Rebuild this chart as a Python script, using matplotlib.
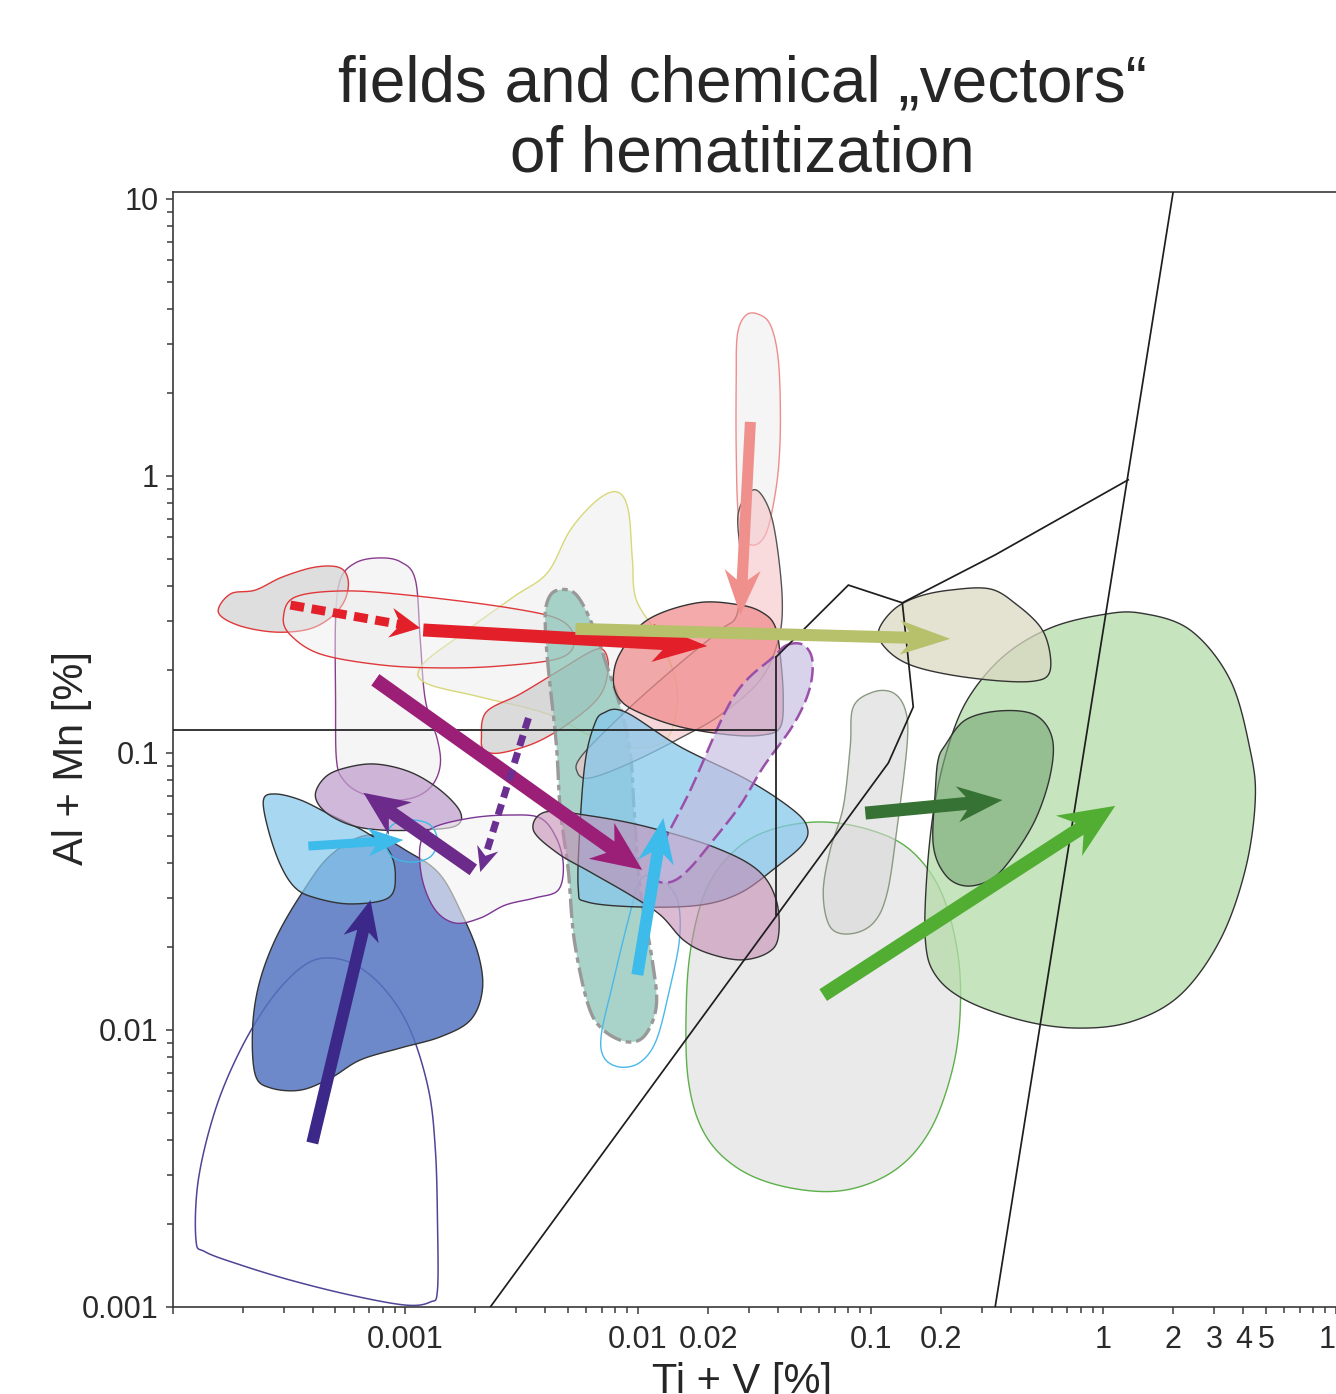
import numpy as np
import matplotlib
matplotlib.use("Agg")
import matplotlib.pyplot as plt
from matplotlib.patches import Polygon
from matplotlib.colors import to_rgba

plt.rcParams['font.family'] = ['Liberation Sans', 'DejaVu Sans']
plt.rcParams['lines.scale_dashes'] = False

# ---------------- data (all values are log10 of the percentages) ----------------
# field outlines: log10(Ti+V) and log10(Al+Mn)
f01_lx = [-3.90, -3.89, -3.817, -3.709, -3.58, -3.45, -3.344, -3.215, -3.086, -2.979, -2.90, -2.871, -2.862, -2.862, -2.893, -3.0, -3.236, -3.494, -3.709, -3.86]
f01_ly = [-2.758, -2.542, -2.289, -2.072, -1.892, -1.776, -1.740, -1.765, -1.856, -2.0, -2.217, -2.433, -2.686, -2.939, -2.982, -2.993, -2.957, -2.903, -2.848, -2.801]
f02_lx = [-3.645, -3.657, -3.63, -3.56, -3.45, -3.32, -3.15, -2.979, -2.85, -2.755, -2.686, -2.669, -2.72, -2.85, -3.021, -3.193, -3.32, -3.45, -3.58]
f02_ly = [-2.162, -2.0, -1.838, -1.675, -1.513, -1.368, -1.296, -1.361, -1.440, -1.585, -1.729, -1.856, -1.964, -2.025, -2.065, -2.108, -2.173, -2.217, -2.209]
f03_lx = [-3.61, -3.56, -3.45, -3.32, -3.172, -3.073, -3.043, -3.073, -3.236, -3.387, -3.473, -3.537, -3.589]
f03_ly = [-1.170, -1.148, -1.170, -1.224, -1.285, -1.350, -1.440, -1.523, -1.545, -1.523, -1.487, -1.404, -1.278]
f04_lx = [-3.387, -3.344, -3.258, -3.129, -2.979, -2.85, -2.764, -2.785, -2.936, -3.107, -3.236, -3.344]
f04_ly = [-1.152, -1.087, -1.054, -1.040, -1.069, -1.134, -1.213, -1.264, -1.278, -1.278, -1.260, -1.213]
f05_lx = [-2.862, -2.893, -2.974, -3.056, -3.086, -3.056, -2.974, -2.893]
f05_ly = [-1.318, -1.260, -1.242, -1.260, -1.318, -1.375, -1.394, -1.375]
f06_lx = [-3.30, -3.30, -3.28, -3.215, -3.116, -3.021, -2.957, -2.936, -2.914, -2.862, -2.85, -2.884, -2.957, -3.064, -3.193, -3.266, -3.296]
f06_ly = [-0.809, -0.520, -0.375, -0.314, -0.296, -0.310, -0.375, -0.592, -0.809, -0.953, -1.043, -1.116, -1.159, -1.170, -1.144, -1.097, -1.025]
f07_lx = [-2.936, -2.884, -2.72, -2.549, -2.42, -2.351, -2.321, -2.343, -2.441, -2.570, -2.678, -2.785, -2.871, -2.927]
f07_ly = [-1.332, -1.271, -1.235, -1.224, -1.235, -1.307, -1.404, -1.495, -1.523, -1.549, -1.596, -1.614, -1.567, -1.458]
f08_lx = [-3.804, -3.752, -3.645, -3.529, -3.387, -3.28, -3.245, -3.266, -3.335, -3.43, -3.572, -3.722]
f08_ly = [-0.491, -0.426, -0.412, -0.365, -0.329, -0.332, -0.383, -0.458, -0.520, -0.556, -0.563, -0.538]
f09_lx = [-3.524, -3.473, -3.258, -2.957, -2.549, -2.334, -2.274, -2.334, -2.592, -2.85, -3.107, -3.365, -3.494]
f09_ly = [-0.509, -0.437, -0.415, -0.433, -0.477, -0.520, -0.592, -0.657, -0.686, -0.693, -0.682, -0.643, -0.574]
f10_lx = [-2.673, -2.652, -2.506, -2.334, -2.205, -2.149, -2.128, -2.162, -2.278, -2.433, -2.592, -2.661]
f10_ly = [-0.946, -0.852, -0.787, -0.700, -0.635, -0.628, -0.690, -0.791, -0.881, -0.960, -1.0, -0.989]
f11_lx = [-2.089, -2.042, -2.024, -2.007, -1.904, -1.831, -1.87, -2.003, -2.183, -2.39, -2.678, -2.914, -2.927, -2.751, -2.536, -2.39, -2.291, -2.175]
f11_ly = [-0.058, -0.123, -0.303, -0.448, -0.592, -0.773, -0.942, -0.982, -0.946, -0.859, -0.798, -0.747, -0.682, -0.567, -0.437, -0.350, -0.195, -0.087]
f12_lx = [-2.394, -2.355, -2.269, -2.192, -2.132, -2.076, -2.033, -2.016, -1.99, -1.939, -1.921, -1.969, -2.046, -2.149, -2.214, -2.274, -2.30, -2.334, -2.351, -2.385, -2.398]
f12_ly = [-0.466, -0.415, -0.426, -0.545, -0.690, -0.834, -1.0, -1.217, -1.495, -1.747, -1.910, -2.018, -2.043, -2.0, -1.910, -1.675, -1.422, -1.206, -0.971, -0.700, -0.556]
f13_lx = [-1.99, -2.042, -2.11, -2.158, -2.145, -2.076, -1.99, -1.921, -1.865, -1.822, -1.827, -1.874, -1.926]
f13_ly = [-1.458, -1.603, -1.838, -2.018, -2.101, -2.134, -2.116, -2.036, -1.856, -1.675, -1.542, -1.473, -1.448]
f14_lx = [-2.149, -2.055, -1.818, -1.530, -1.333, -1.272, -1.294, -1.41, -1.56, -1.732, -1.99, -2.218, -2.257, -2.248, -2.226, -2.188]
f14_ly = [-0.856, -0.852, -0.978, -1.097, -1.206, -1.271, -1.332, -1.415, -1.505, -1.549, -1.556, -1.538, -1.487, -1.242, -1.025, -0.899]
f15_lx = [-2.45, -2.398, -2.205, -1.96, -1.676, -1.487, -1.406, -1.397, -1.444, -1.56, -1.702, -1.805, -1.904, -2.033, -2.205, -2.347]
f15_ly = [-1.278, -1.213, -1.227, -1.267, -1.339, -1.422, -1.531, -1.664, -1.722, -1.747, -1.722, -1.675, -1.585, -1.513, -1.430, -1.361]
f16_lx = [-2.106, -2.076, -1.96, -1.745, -1.56, -1.462, -1.41, -1.388, -1.376, -1.388, -1.462, -1.603, -1.818, -1.99, -2.076]
f16_ly = [-0.736, -0.639, -0.520, -0.458, -0.466, -0.495, -0.545, -0.653, -0.798, -0.906, -0.935, -0.935, -0.906, -0.856, -0.809]
f17_lx = [-1.504, -1.444, -1.406, -1.38, -1.397, -1.474, -1.646, -1.818, -2.033, -2.205, -2.261, -2.239, -2.033, -1.818, -1.646, -1.573, -1.56, -1.569]
f17_ly = [-0.05, -0.105, -0.231, -0.448, -0.592, -0.736, -0.863, -0.946, -1.036, -1.090, -1.069, -1.007, -0.834, -0.675, -0.556, -0.495, -0.303, -0.134]
f18_lx = [-1.573, -1.539, -1.487, -1.431, -1.397, -1.388, -1.397, -1.423, -1.453, -1.496, -1.539, -1.569, -1.578, -1.578]
f18_ly = [0.509, 0.578, 0.585, 0.545, 0.419, 0.202, 0.022, -0.123, -0.213, -0.249, -0.231, -0.141, 0.094, 0.347]
f19_lx = [-1.358, -1.29, -1.251, -1.264, -1.333, -1.462, -1.56, -1.676, -1.784, -1.861, -1.926, -1.904, -1.775, -1.59, -1.418]
f19_ly = [-0.610, -0.610, -0.664, -0.773, -0.899, -1.051, -1.188, -1.314, -1.422, -1.466, -1.451, -1.350, -1.134, -0.798, -0.653]
f20_lx = [-0.967, -0.903, -0.80, -0.658, -0.486, -0.37, -0.271, -0.232, -0.232, -0.293, -0.443, -0.658, -0.83, -0.929]
f20_ly = [-0.563, -0.484, -0.437, -0.412, -0.408, -0.466, -0.545, -0.628, -0.711, -0.740, -0.740, -0.718, -0.682, -0.628]
f21_lx = [-1.792, -1.767, -1.702, -1.582, -1.431, -1.217, -1.002, -0.83, -0.701, -0.628, -0.615, -0.649, -0.744, -0.894, -1.109, -1.346, -1.56, -1.711, -1.784]
f21_ly = [-1.892, -1.675, -1.484, -1.350, -1.278, -1.249, -1.278, -1.350, -1.495, -1.711, -1.928, -2.144, -2.361, -2.505, -2.578, -2.570, -2.505, -2.379, -2.181]
f22_lx = [-1.075, -0.989, -0.903, -0.851, -0.843, -0.886, -0.929, -0.989, -1.088, -1.174, -1.204, -1.174, -1.118, -1.088]
f22_ly = [-0.834, -0.780, -0.783, -0.845, -0.964, -1.267, -1.505, -1.614, -1.653, -1.628, -1.505, -1.350, -1.195, -0.978]
f23_lx = [0.159, 0.373, 0.545, 0.631, 0.653, 0.61, 0.502, 0.33, 0.116, -0.121, -0.357, -0.593, -0.722, -0.765, -0.757, -0.722, -0.658, -0.572, -0.422, -0.228, -0.013]
f23_ly = [-0.495, -0.556, -0.736, -0.989, -1.170, -1.422, -1.675, -1.874, -1.971, -1.993, -1.964, -1.892, -1.801, -1.675, -1.422, -1.170, -0.953, -0.791, -0.646, -0.549, -0.502]
f24_lx = [-0.679, -0.593, -0.443, -0.293, -0.22, -0.228, -0.293, -0.40, -0.486, -0.593, -0.679, -0.731, -0.722, -0.71]
f24_ly = [-0.971, -0.881, -0.848, -0.863, -0.946, -1.079, -1.242, -1.386, -1.458, -1.480, -1.440, -1.332, -1.134, -1.025]

# boundary lines of the diagram (log10 values)
bound_h_lx = [-4.0, -1.406]
bound_h_ly = [-0.917, -0.917]
bound_v_lx = [-1.406, -1.406]
bound_v_ly = [-0.653, -1.585]
bound_poly_lx = [-1.406, -1.096, -0.864, -0.817, -0.924, -2.635]
bound_poly_ly = [-0.653, -0.394, -0.458, -0.834, -1.036, -3.0]
bound_upper_lx = [-0.864, -0.465, 0.107]
bound_upper_ly = [-0.458, -0.285, -0.014]
bound_steep_lx = [0.30, -0.465]
bound_steep_ly = [1.025, -3.0]

# chemical vectors: start and end (log10 Ti+V, log10 Al+Mn)
vec_names = ['red_dash', 'red', 'olive', 'salmon', 'magenta', 'purple_dash', 'purple', 'cyan1', 'indigo', 'cyan2', 'dkgreen', 'green']
vec_x0 = [-3.494, -2.923, -2.269, -1.517, -3.129, -2.471, -2.708, -3.417, -3.40, -2.003, -1.023, -1.204]
vec_y0 = [-0.466, -0.556, -0.552, 0.195, -0.736, -0.874, -1.422, -1.336, -2.408, -1.801, -1.217, -1.874]
vec_x1 = [-2.936, -1.702, -0.658, -1.56, -1.982, -2.678, -3.18, -3.009, -3.15, -1.891, -0.434, 0.051]
vec_y1 = [-0.549, -0.614, -0.588, -0.502, -1.422, -1.430, -1.144, -1.314, -1.531, -1.235, -1.170, -1.191]

x_tick_vals = [1e-4, 0.001, 0.01, 0.02, 0.1, 0.2, 1, 2, 3, 4, 5, 10]
x_tick_labels = ['', '0.001', '0.01', '0.02', '0.1', '0.2', '1', '2', '3', '4', '5', '10']
y_tick_vals = [0.001, 0.01, 0.1, 1, 10]
y_tick_labels = ['0.001', '0.01', '0.1', '1', '10']

# ---------------- styles ----------------
DPI = 100
fig = plt.figure(figsize=(13.36, 13.94), dpi=DPI)
ax = fig.add_axes([172.7 / 1336, 87 / 1394, (1336 - 172.7) / 1336, (1307 - 192) / 1394])
ax.set_xscale('log')
ax.set_yscale('log')
ax.set_xlim(1e-4, 10)
ax.set_ylim(1e-3, 10 ** 1.025)


def smooth_closed(lx, ly, k=14):
    P = np.column_stack([lx, ly]).astype(float)
    n = len(P)
    t = np.linspace(0, 1, k, endpoint=False)[:, None]
    segs = []
    for i in range(n):
        p0, p1, p2, p3 = P[(i - 1) % n], P[i], P[(i + 1) % n], P[(i + 2) % n]
        seg = 0.5 * ((2 * p1) + (-p0 + p2) * t + (2 * p0 - 5 * p1 + 4 * p2 - p3) * t ** 2
                     + (-p0 + 3 * p1 - 3 * p2 + p3) * t ** 3)
        segs.append(seg)
    return np.vstack(segs)


fields = [
    # lx, ly, face, alpha, edge, lw, linestyle
    (f01_lx, f01_ly, None, 0, '#4e4596', 1.1, '-'),
    (f21_lx, f21_ly, '#e4e4e4', 0.75, '#5cb04a', 1.0, '-'),
    (f02_lx, f02_ly, '#5574c0', 0.85, '#333333', 1.0, '-'),
    (f03_lx, f03_ly, '#86c8ec', 0.72, '#333333', 1.0, '-'),
    (f06_lx, f06_ly, '#f2f2f2', 0.7, '#8a3d8f', 1.0, '-'),
    (f04_lx, f04_ly, '#bf9dcc', 0.72, '#333333', 1.0, '-'),
    (f07_lx, f07_ly, '#f2f2f2', 0.6, '#7b3592', 1.0, '-'),
    (f05_lx, f05_ly, None, 0, '#3fb8e6', 1.0, '-'),
    (f11_lx, f11_ly, '#ededed', 0.55, '#d8d878', 1.0, '-'),
    (f08_lx, f08_ly, '#d6d6d6', 0.8, '#e0383a', 1.0, '-'),
    (f09_lx, f09_ly, '#ececec', 0.45, '#e0383a', 1.0, '-'),
    (f10_lx, f10_ly, '#cdcdcd', 0.7, '#e0383a', 1.0, '-'),
    (f12_lx, f12_ly, '#8cc5b8', 0.75, '#999999', 2.4, (0, (14, 3.5, 4, 3.5))),
    (f13_lx, f13_ly, None, 0, '#4ab8e8', 1.0, '-'),
    (f18_lx, f18_ly, '#f4f4f4', 0.85, '#f08c8c', 1.0, '-'),
    (f17_lx, f17_ly, '#f5c4c8', 0.6, '#555555', 1.0, '-'),
    (f16_lx, f16_ly, '#f08a8a', 0.72, '#333333', 1.0, '-'),
    (f14_lx, f14_ly, '#86c8ec', 0.74, '#333333', 1.0, '-'),
    (f15_lx, f15_ly, '#c58db5', 0.6, '#333333', 1.0, '-'),
    (f19_lx, f19_ly, '#c4bce0', 0.65, '#9a50a8', 1.8, (0, (11, 4))),
    (f22_lx, f22_ly, '#d8d8d8', 0.6, '#8a9a80', 1.0, '-'),
    (f23_lx, f23_ly, '#b4dba8', 0.75, '#333333', 1.0, '-'),
    (f24_lx, f24_ly, '#7caa79', 0.65, '#333333', 1.0, '-'),
    (f20_lx, f20_ly, '#dbd9c2', 0.75, '#333333', 1.0, '-'),
]

for z, (lx, ly, face, alpha, edge, lw, ls) in enumerate(fields):
    pts = 10 ** smooth_closed(lx, ly)
    fc = to_rgba(face, alpha) if face else 'none'
    ax.add_patch(Polygon(pts, closed=True, fc=fc, ec=edge, lw=lw, ls=ls, zorder=1 + z * 0.01))

for lx, ly in [(bound_h_lx, bound_h_ly), (bound_v_lx, bound_v_ly), (bound_poly_lx, bound_poly_ly),
               (bound_upper_lx, bound_upper_ly), (bound_steep_lx, bound_steep_ly)]:
    ax.plot(10 ** np.array(lx), 10 ** np.array(ly), color='#1e1e1e', lw=1.25, zorder=3,
            solid_joinstyle='miter', clip_on=True)

# arrow styles (pixels): color, shaft width, head length, head width, notch, dashes
vec_style = {
    'red_dash':    ('#e3202a', 9, 30, 30, 10, (10, 5.5)),
    'red':         ('#e3202a', 13, 55, 38, 16, None),
    'olive':       ('#b7c06a', 12, 50, 34, 14, None),
    'salmon':      ('#f0908c', 11, 45, 36, 14, None),
    'magenta':     ('#9b1f77', 14, 50, 44, 16, None),
    'purple_dash': ('#6a2f90', 7, 25, 22, 8, (8, 5)),
    'purple':      ('#6c2a8b', 13, 45, 40, 14, None),
    'cyan1':       ('#3dbbea', 9, 35, 28, 10, None),
    'indigo':      ('#3b2888', 12, 40, 36, 12, None),
    'cyan2':       ('#3dbbea', 12, 45, 36, 14, None),
    'dkgreen':     ('#367233', 13, 45, 36, 14, None),
    'green':       ('#52ad33', 14, 55, 48, 18, None),
}


def draw_vector(x0, y0, x1, y1, color, w, hl, hw, notch, dashes, z):
    T = ax.transData
    p0 = T.transform((x0, y0))
    p1 = T.transform((x1, y1))
    d = p1 - p0
    u = d / np.hypot(*d)
    n = np.array([-u[1], u[0]])
    B = p1 - hl * u
    Cl, Cr = B + hw / 2 * n, B - hw / 2 * n
    N = B + notch * u
    tt = 1 - w / hw
    Ql = B + w / 2 * n + tt * notch * u
    Qr = B - w / 2 * n + tt * notch * u
    inv = T.inverted()
    if dashes is None:
        poly = np.array([p0 + w / 2 * n, Ql, Cl, p1, Cr, Qr, p0 - w / 2 * n])
        ax.add_patch(Polygon(inv.transform(poly), closed=True, fc=color, ec='none', zorder=z))
    else:
        head = np.array([Cl, p1, Cr, N])
        ax.add_patch(Polygon(inv.transform(head), closed=True, fc=color, ec='none', zorder=z))
        end = inv.transform(N + 2 * u)
        ax.plot([x0, end[0]], [y0, end[1]], color=color, lw=w * 72 / DPI,
                dashes=dashes, solid_capstyle='butt', dash_capstyle='butt', zorder=z)


for i, name in enumerate(vec_names):
    c, w, hl, hw, notch, dashes = vec_style[name]
    draw_vector(10 ** vec_x0[i], 10 ** vec_y0[i], 10 ** vec_x1[i], 10 ** vec_y1[i],
                c, w, hl, hw, notch, dashes, 5 + i * 0.01)

# ---------------- axes cosmetics ----------------
minor_x = [k * 10.0 ** e for e in range(-4, 1) for k in range(2, 10)]
minor_x = [v for v in minor_x if not any(abs(v - m) / m < 1e-6 for m in x_tick_vals)]
ax.set_xticks(x_tick_vals)
ax.set_xticklabels(x_tick_labels)
ax.set_xticks(minor_x, minor=True)
ax.set_xticklabels([], minor=True)
minor_y = [k * 10.0 ** e for e in range(-3, 1) for k in range(2, 10)]
ax.set_yticks(y_tick_vals)
ax.set_yticklabels(y_tick_labels)
ax.set_yticks(minor_y, minor=True)
ax.set_yticklabels([], minor=True)

for s in ['left', 'bottom', 'top']:
    ax.spines[s].set_color('#3a3a3a')
    ax.spines[s].set_linewidth(1.2)
ax.spines['right'].set_visible(False)
ax.tick_params(which='major', direction='out', length=5, width=1.1, color='#3a3a3a',
               labelsize=22, labelcolor='#2a2a2a')
ax.tick_params(which='minor', direction='out', length=4.5, width=1.1, color='#3a3a3a')
ax.tick_params(axis='x', which='major', pad=8)
ax.tick_params(axis='y', which='major', pad=5)
ax.tick_params(top=False, right=False, which='both')

fig.text(742 / 1336, 1 - 102 / 1394, 'fields and chemical \u201evectors\u201c', ha='center',
         va='baseline', fontsize=46, color='#262626')
fig.text(742 / 1336, 1 - 172 / 1394, 'of hematitization', ha='center', va='baseline',
         fontsize=46, color='#262626')
fig.text(72 / 1336, 1 - 758 / 1394, 'Al + Mn [%]', rotation=90, ha='center', va='center',
         fontsize=30, color='#262626')
fig.text(742 / 1336, 1 - 1362 / 1394, 'Ti + V [%]', ha='center', va='top',
         fontsize=30, color='#262626')

fig.savefig('out.png', dpi=DPI)
